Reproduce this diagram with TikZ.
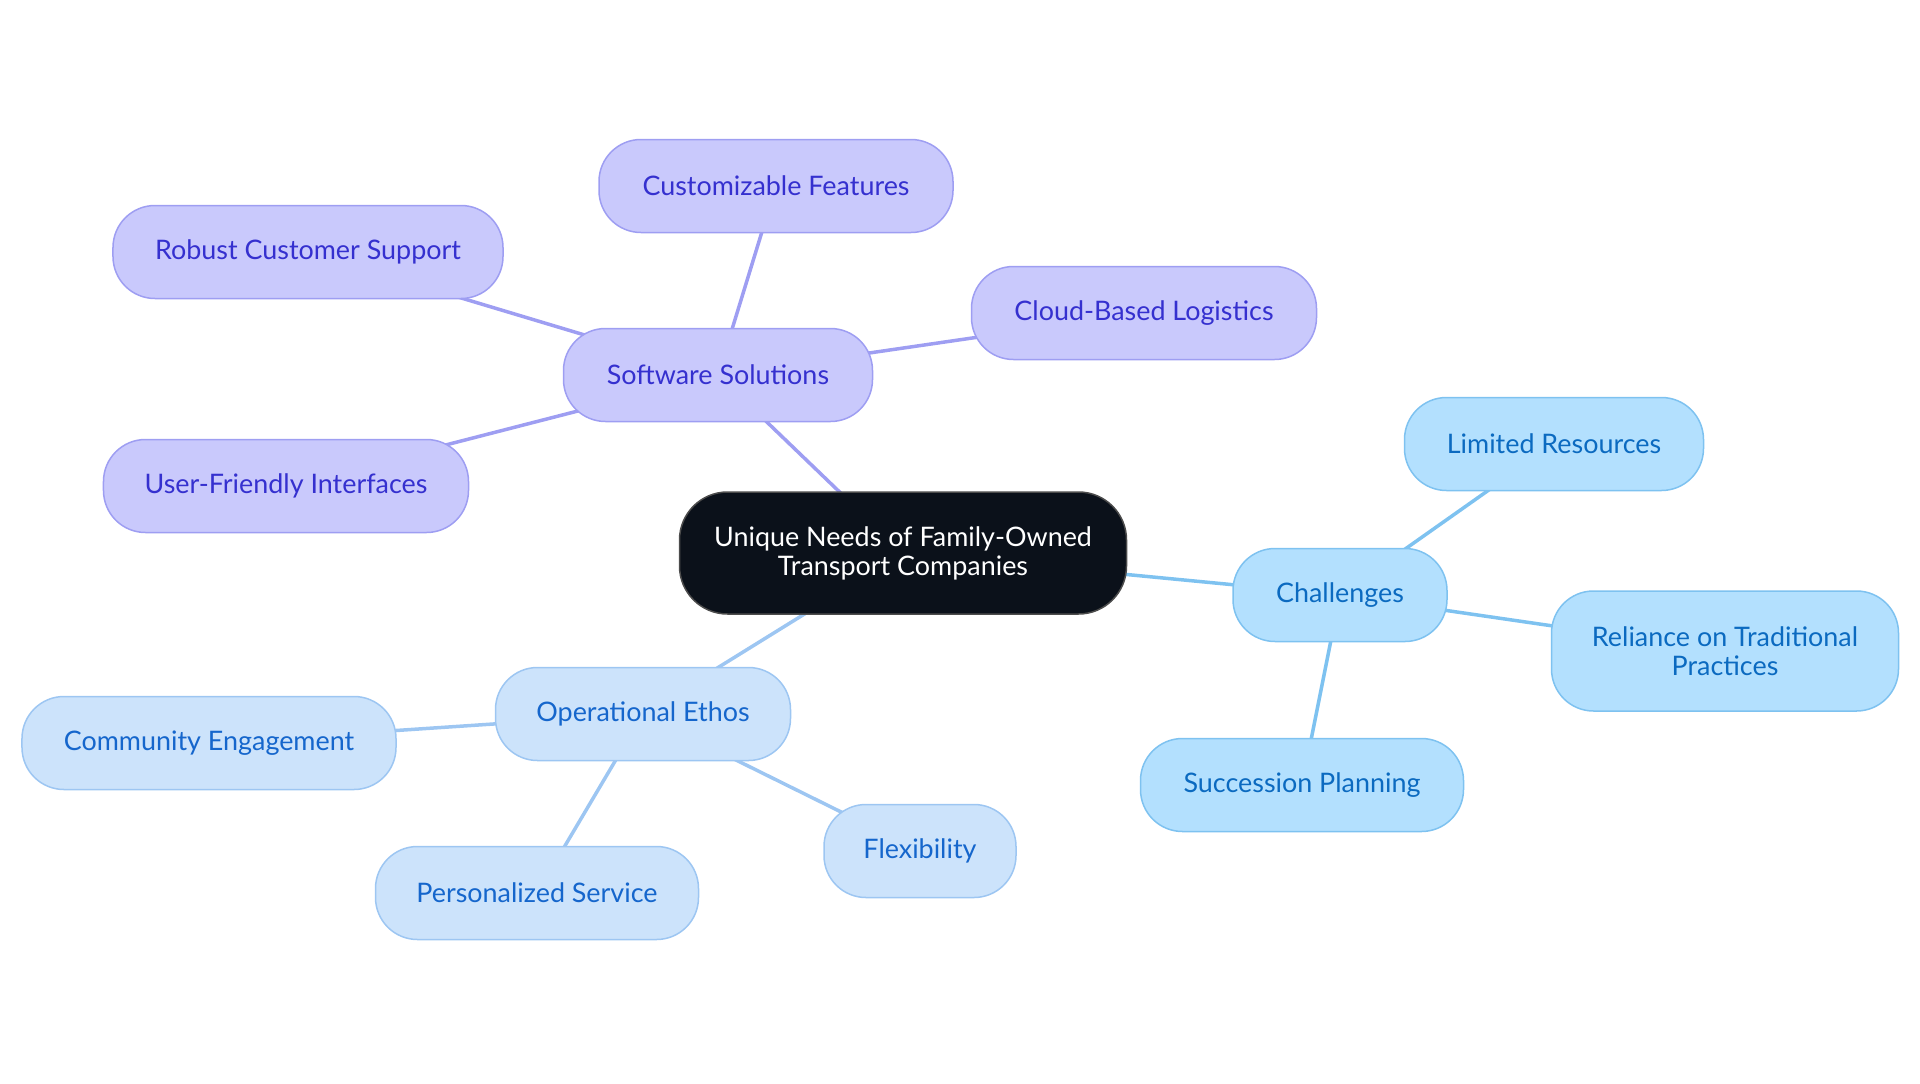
\documentclass[tikz,border=0pt]{standalone}
\usepackage{fontspec}
\setmainfont{Lato}
\usetikzlibrary{backgrounds}
\definecolor{purfill}{HTML}{C9C9FC}
\definecolor{purdraw}{HTML}{9E9EF2}
\definecolor{purtext}{HTML}{3530CF}
\definecolor{purline}{HTML}{9E9EF2}
\definecolor{skyfill}{HTML}{B3E0FE}
\definecolor{skydraw}{HTML}{7EC2F0}
\definecolor{skytext}{HTML}{0B6AC0}
\definecolor{skyline}{HTML}{7EC2F0}
\definecolor{palefill}{HTML}{CCE3FB}
\definecolor{paledraw}{HTML}{9DC6F2}
\definecolor{paletext}{HTML}{1566CC}
\definecolor{paleline}{HTML}{9DC6F2}
\definecolor{corefill}{HTML}{0B111A}
\begin{document}
\begin{tikzpicture}[x=1bp,y=-1bp,
  box/.style={rounded corners=42bp, line width=1.5bp, inner sep=0pt, align=center,
    minimum height=93bp, font=\fontsize{27}{29}\selectfont},
  purbox/.style={box, fill=purfill, draw=purdraw, text=purtext},
  skybox/.style={box, fill=skyfill, draw=skydraw, text=skytext},
  palebox/.style={box, fill=palefill, draw=paledraw, text=paletext},
  corebox/.style={box, fill=corefill, draw=black!70, text=white, rounded corners=48bp},
  link/.style={line width=3.5bp, line cap=round}]
\useasboundingbox (0,0) rectangle (1920,1083);
% nodes
\node[corebox, minimum width=447bp, minimum height=122bp] (core) at (903,553) {Unique Needs of Family-Owned\\Transport Companies};
\node[purbox, minimum width=309bp] (sw) at (718,375) {Software Solutions};
\node[purbox, minimum width=354bp] (cf) at (776,186) {Customizable Features};
\node[purbox, minimum width=390bp] (rcs) at (308,252) {Robust Customer Support};
\node[purbox, minimum width=345bp] (cbl) at (1144,313) {Cloud-Based Logistics};
\node[purbox, minimum width=365bp] (ufi) at (286,486) {User-Friendly Interfaces};
\node[skybox, minimum width=214bp] (ch) at (1340,595) {Challenges};
\node[skybox, minimum width=299bp] (lr) at (1554,444) {Limited Resources};
\node[skybox, minimum width=347bp, minimum height=120bp] (rtp) at (1725,651) {Reliance on Traditional\\Practices};
\node[skybox, minimum width=323bp] (sp) at (1302,785) {Succession Planning};
\node[palebox, minimum width=295bp] (oe) at (643,714) {Operational Ethos};
\node[palebox, minimum width=374bp] (ce) at (209,743) {Community Engagement};
\node[palebox, minimum width=323bp] (ps) at (537,893) {Personalized Service};
\node[palebox, minimum width=192bp] (fl) at (920,851) {Flexibility};
% links
\begin{scope}[on background layer]
\draw[link, purline] (core.center) -- (sw.center);
\draw[link, purline] (sw.center) -- (cf.center);
\draw[link, purline] (sw.center) -- (rcs.center);
\draw[link, purline] (sw.center) -- (cbl.center);
\draw[link, purline] (sw.center) -- (ufi.center);
\draw[link, skyline] (core.center) -- (ch.center);
\draw[link, skyline] (ch.center) -- (lr.center);
\draw[link, skyline] (ch.center) -- (rtp.center);
\draw[link, skyline] (ch.center) -- (sp.center);
\draw[link, paleline] (core.center) -- (oe.center);
\draw[link, paleline] (oe.center) -- (ce.center);
\draw[link, paleline] (oe.center) -- (ps.center);
\draw[link, paleline] (oe.center) -- (fl.center);
\end{scope}
\end{tikzpicture}
\end{document}
